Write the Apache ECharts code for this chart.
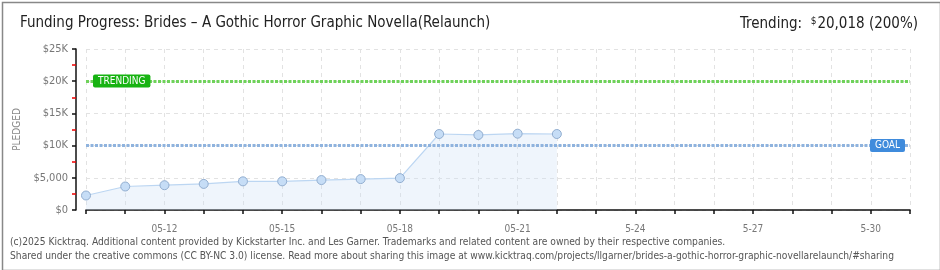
<!DOCTYPE html>
<html>
<head>
<meta charset="utf-8">
<script src="https://cdn.jsdelivr.net/npm/echarts@6/dist/echarts.min.js"></script>
<style>
  html, body { margin: 0; padding: 0; background: #fff; }
  #chart { width: 940px; height: 270px; }
</style>
</head>
<body>
<div id="chart"></div>
<script>
// Daily pledge totals for the campaign (USD)
const dates = ['05-10','05-11','05-12','05-13','05-14','05-15','05-16','05-17','05-18','05-19','05-20','05-21',
               '05-22','05-23','05-24','05-25','05-26','05-27','05-28','05-29','05-30','05-31'];
const xTickLabels = ['','','05-12','','','05-15','','','05-18','','','05-21',
                     '','','5-24','','','5-27','','','5-30',''];
const pledged = [2250, 3650, 3850, 4050, 4450, 4450, 4650, 4800, 4950, 11800, 11650, 11850, 11800];
const goal = 10000;
const trending = 20018;
const trendingPct = 200;
const yTickLabels = ['$0', '$5,000', '$10K', '$15K', '$20K', '$25K'];

const titleText = 'Funding Progress: Brides \u2013 A Gothic Horror Graphic Novella(Relaunch)';
const footer1 = '(c)2025 Kicktraq. Additional content provided by Kickstarter Inc. and Les Garner. Trademarks and related content are owned by their respective companies.';
const footer2 = 'Shared under the creative commons (CC BY-NC 3.0) license. Read more about sharing this image at www.kicktraq.com/projects/llgarner/brides-a-gothic-horror-graphic-novellarelaunch/#sharing';

const axisFont = '"DejaVu Sans Condensed", "DejaVu Sans", sans-serif';
const titleFont = '"Liberation Sans Narrow", "DejaVu Sans Condensed", sans-serif';

const chart = echarts.init(document.getElementById('chart'), null, { renderer: 'canvas' });

chart.setOption({
  animation: false,
  backgroundColor: '#fff',
  grid: { left: 86, right: 30, top: 49, bottom: 60, containLabel: false },
  title: [
    {
      text: titleText, left: 15, top: 11,
      textStyle: { fontFamily: titleFont, fontSize: 15, fontWeight: 'normal', color: '#222' }
    },
    {
      text: '{l|Trending:  }{s|$}{v|' + trending.toLocaleString('en-US') + ' (' + trendingPct + '%)}',
      right: 17, top: 11,
      textStyle: {
        fontWeight: 'normal',
        rich: {
          l: { fontFamily: titleFont, fontSize: 15, fontWeight: 'normal', color: '#222' },
          s: { fontFamily: titleFont, fontSize: 10, fontWeight: 'normal', color: '#222', verticalAlign: 'top', padding: [0, 1, 6, 0] },
          v: { fontFamily: titleFont, fontSize: 15, fontWeight: 'normal', color: '#222' }
        }
      }
    }
  ],
  xAxis: {
    type: 'category',
    data: dates,
    boundaryGap: false,
    offset: 10,
    axisLine: { lineStyle: { color: '#111', width: 1.5 } },
    axisTick: { show: true, interval: 0, length: 4, lineStyle: { color: '#111', width: 1.5 } },
    axisLabel: {
      interval: 0,
      margin: 4,
      fontFamily: axisFont, fontSize: 10, color: '#777',
      formatter: (v, i) => xTickLabels[i]
    },
    splitLine: { show: true, interval: 0, lineStyle: { color: '#e2e2e2', type: [4, 4], width: 1 } }
  },
  yAxis: {
    type: 'value',
    min: 0, max: 25000, interval: 5000,
    offset: 10,
    name: 'PLEDGED',
    nameLocation: 'middle',
    nameGap: 52,
    nameRotate: 90,
    nameTextStyle: { fontFamily: axisFont, fontSize: 10, color: '#888', letterSpacing: 2 },
    axisLine: { show: true, lineStyle: { color: '#111', width: 1.5 } },
    axisTick: { show: true, length: 4, lineStyle: { color: '#111', width: 1.5 } },
    minorTick: { show: true, splitNumber: 2, length: 4, lineStyle: { color: '#e00', width: 1.5 } },
    axisLabel: {
      margin: 8,
      fontFamily: axisFont, fontSize: 11, color: '#777',
      formatter: (v) => yTickLabels[Math.round(v / 5000)]
    },
    splitLine: { show: true, lineStyle: { color: '#e2e2e2', type: [4, 4], width: 1 } }
  },
  series: [
    {
      type: 'line',
      data: pledged,
      symbol: 'circle',
      symbolSize: 9,
      lineStyle: { color: '#bcd6f2', width: 1.2 },
      itemStyle: { color: '#c6ddf6', borderColor: '#92aed0', borderWidth: 1 },
      areaStyle: { color: 'rgba(205, 225, 247, 0.45)' },
      z: 3,
      markLine: {
        silent: true,
        symbol: ['none', 'none'],
        data: [
          {
            yAxis: trending,
            lineStyle: { color: '#6fd25a', width: 3, type: [3, 1.5] },
            label: {
              show: true, position: 'insideStart', distance: 7,
              formatter: 'TRENDING',
              fontFamily: axisFont, fontSize: 10, fontWeight: 'normal', color: '#fff',
              backgroundColor: '#17b312', borderRadius: 2, padding: [2, 5, 1, 5]
            }
          },
          {
            yAxis: goal,
            lineStyle: { color: '#8fb3de', width: 3, type: [3, 1.5] },
            label: {
              show: true, position: 'insideEnd', distance: 5,
              formatter: 'GOAL',
              fontFamily: axisFont, fontSize: 10, fontWeight: 'normal', color: '#fff',
              backgroundColor: '#3f8bdc', borderRadius: 2, padding: [2, 5, 1, 5]
            }
          }
        ]
      }
    }
  ],
  graphic: [
    {
      type: 'rect', left: 0, top: 0, silent: true,
      shape: { x: 0.5, y: 0.5, width: 938, height: 268 },
      style: { fill: 'none', stroke: '#888', lineWidth: 1.5 }
    },
    {
      type: 'text', left: 10, top: 237,
      style: { text: footer1, font: '10.2px "DejaVu Sans Condensed", sans-serif', fill: '#555' }
    },
    {
      type: 'text', left: 10, top: 251,
      style: { text: footer2, font: '10.2px "DejaVu Sans Condensed", sans-serif', fill: '#555' }
    }
  ]
});
</script>
</body>
</html>
